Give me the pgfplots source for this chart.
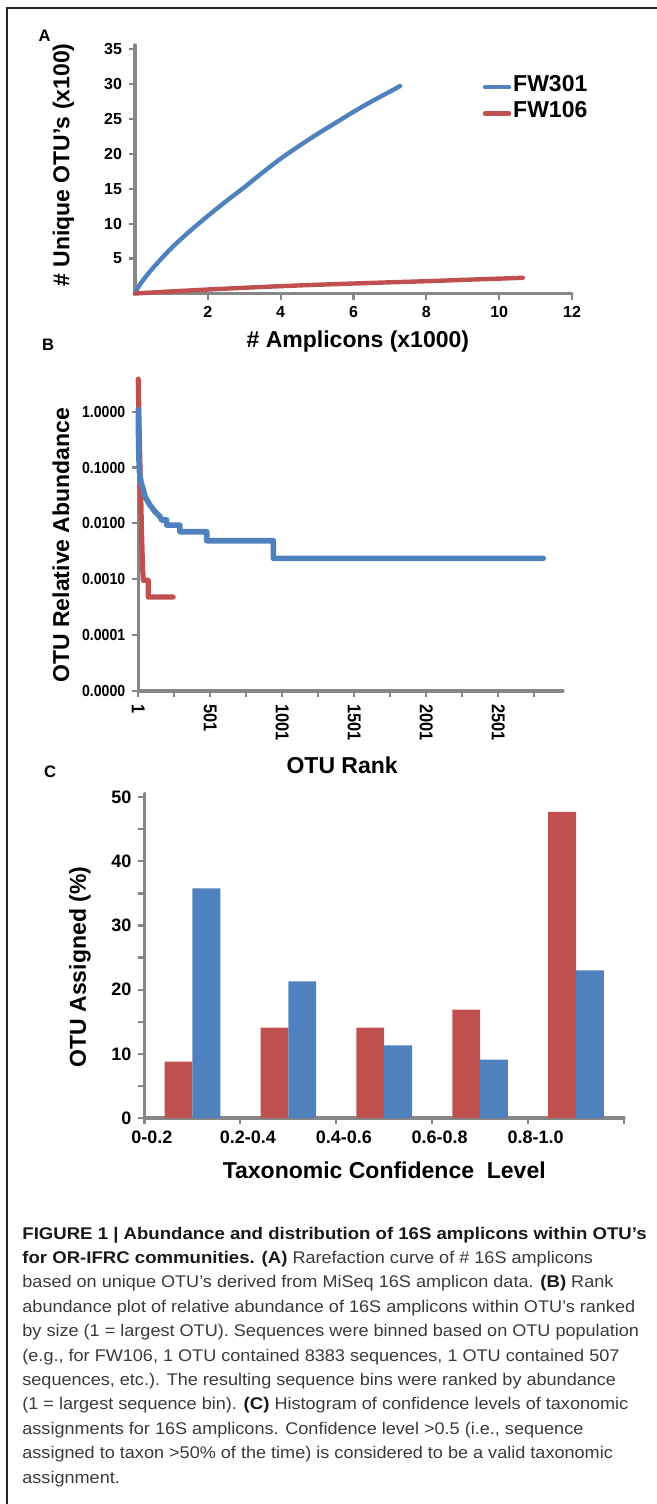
\documentclass[border=0pt]{standalone}
\usepackage{fontspec}
\setmainfont{Liberation Sans}
\newfontfamily\narrowfont[FakeStretch=0.88]{Liberation Sans}
\newfontfamily\capfont[FakeStretch=1.07]{Liberation Sans}
\newfontfamily\capbold[FakeStretch=1.1]{Liberation Sans}
\usepackage{pgfplots}
\pgfplotsset{compat=1.18}
\definecolor{fwblue}{HTML}{4F81BD}
\definecolor{fwred}{HTML}{C0504D}
\definecolor{axisgray}{HTML}{878787}
\definecolor{capgray}{HTML}{3A3A3A}
\newcommand{\cb}[1]{{\capbold\bfseries\color{black!90}#1}}
\pgfplotsset{
  myaxis/.style={
    scale only axis,
    anchor=south west,
    axis lines=left,
    axis line style={-, draw=axisgray, line width=1.6pt, line cap=round},
    tick style={draw=axisgray, line width=1.1pt},
    major tick length=3pt, minor tick length=3pt,
    tick align=outside,
    label style={font=\bfseries\fontsize{11.5}{13}\selectfont},
    clip=false,
  }
}
\begin{document}
\begin{tikzpicture}
\path[use as bounding box] (0pt,0pt) rectangle (328.5pt,-752pt);
% frame
\draw[line width=1pt, black!85] (3.25pt,-752pt) -- (3.25pt,-4.25pt) -- (328.5pt,-4.25pt);
% panel letters
\node[font=\bfseries\fontsize{8.3}{10}\selectfont] at (22.25pt,-18pt) {A};
\node[font=\bfseries\fontsize{8.3}{10}\selectfont] at (24pt,-172.5pt) {B};
\node[font=\bfseries\fontsize{8.3}{10}\selectfont] at (25pt,-385.75pt) {C};

% ---------------- Panel A
\begin{axis}[myaxis, at={(67.5pt,-146.75pt)},
  width=218.5pt, height=124.25pt,
  xmin=0, xmax=12, ymin=0, ymax=35.57,
  xtick={2,4,6,8,10,12}, xticklabels={2,4,6,8,10,12},
  ytick={5,10,15,20,25,30,35}, yticklabels={5,10,15,20,25,30,35},
  tick label style={font=\bfseries\fontsize{8}{9}\selectfont},
  xlabel={\# Amplicons (x1000)}, ylabel={\# Unique OTU's (x100)},
  xlabel style={at={(axis description cs:0.510,-0.195)}, anchor=center},
  ylabel style={at={(axis description cs:-0.1636,0.517)}, anchor=center},
  legend style={at={(axis description cs:0.795,0.788)}, anchor=west, draw=none, fill=none,
    font=\bfseries\fontsize{11.5}{12}\selectfont, row sep=1.6pt, inner sep=0pt,
    nodes={inner sep=1pt}},
  legend cell align=left,
  legend image code/.code={\draw[#1] (0pt,-1.3pt) -- (12pt,-1.3pt);},
]
\addplot[fwblue, line width=2.2pt, line cap=round, smooth] coordinates {
(0,0) (0.1,1.0) (0.25,2.1) (0.5,3.7) (1,6.5) (1.5,8.9) (2,11.1) (2.5,13.2)
(3,15.2) (3.5,17.3) (4,19.3) (4.5,21.1) (5,22.8) (5.5,24.4) (6,26.0)
(6.5,27.5) (7,28.9) (7.28,29.7)};
\addlegendentry{FW301}
\addplot[fwred, line width=2.2pt, line cap=round, smooth] coordinates {
(0,0) (0.5,0.15) (1,0.3) (2,0.57) (3,0.82) (4,1.05) (5,1.25) (6,1.43)
(7,1.6) (8,1.76) (9,1.95) (10,2.13) (10.65,2.25)};
\addlegendentry{FW106}
\end{axis}

% ---------------- Panel B
\begin{axis}[myaxis, at={(69.15pt,-345.5pt)},
  width=212.35pt, height=156.5pt,
  xmin=1, xmax=2950, ymode=log, ymin=1e-5, ymax=4,
  xtick={1,501,1001,1501,2001,2501}, xticklabels={1,501,1001,1501,2001,2501},
  minor xtick={251,751,1251,1751,2251,2751},
  ytick={1e-5,1e-4,1e-3,1e-2,1e-1,1},
  yticklabels={0.0000,0.0001,0.0010,0.0100,0.1000,1.0000},
  yminorticks=false,
  xticklabel style={rotate=-90, anchor=west, font=\narrowfont\bfseries\fontsize{9.3}{10}\selectfont},
  yticklabel style={font=\narrowfont\bfseries\fontsize{8}{9}\selectfont},
  xlabel={OTU Rank}, ylabel={OTU Relative Abundance},
  xlabel style={at={(axis description cs:0.480,-0.236)}, anchor=center},
  ylabel style={at={(axis description cs:-0.182,0.466)}, anchor=center},
]
\addplot[fwred, line width=2.6pt, line cap=round, line join=round] coordinates {
(1,3.8) (6,0.6) (12,0.12) (18,0.03) (24,0.006) (31,0.0015) (36,0.00096)
(70,0.00096) (70,0.00048) (243,0.00048)};
\addplot[fwblue, line width=2.8pt, line cap=round, line join=round] coordinates {
(1,1.1) (3,0.3) (5,0.15) (10,0.08) (20,0.055) (36,0.04) (48,0.03) (82,0.0213)
(117,0.0162) (152,0.0132) (163,0.0115) (198,0.0115) (198,0.0093) (290,0.0093)
(290,0.0071) (476,0.0071) (476,0.0049) (939,0.0049) (939,0.00237) (2813,0.00237)};
\end{axis}

% ---------------- Panel C
\begin{axis}[myaxis, at={(72.25pt,-559pt)},
  width=239.75pt, height=162.35pt,
  xmin=0, xmax=5, ymin=0, ymax=50.6,
  xtick={0,1,2,3,4,5}, xticklabels={0-0.2,0.2-0.4,0.4-0.6,0.6-0.8,0.8-1.0,{}},
  ytick={0,10,20,30,40,50}, yticklabels={0,10,20,30,40,50},
  minor ytick={5,15,25,35,45},
  xticklabel style={xshift=3.75pt},
  tick label style={font=\bfseries\fontsize{9}{10}\selectfont},
  xlabel={Taxonomic Confidence\ \ Level}, ylabel={OTU Assigned (\%)},
  xlabel style={at={(axis description cs:0.5,-0.160)}, anchor=center},
  ylabel style={at={(axis description cs:-0.1345,0.465)}, anchor=center},
]
\addplot[ybar, bar width=0.29, bar shift=0pt, fill=fwred, draw=none] coordinates {
(0.355,8.8) (1.355,14.1) (2.355,14.1) (3.355,16.9) (4.355,47.7)};
\addplot[ybar, bar width=0.29, bar shift=0pt, fill=fwblue, draw=none] coordinates {
(0.645,35.8) (1.645,21.3) (2.645,11.3) (3.645,9.1) (4.645,23.0)};
\end{axis}

% ---------------- Caption
\begin{scope}[every node/.style={anchor=base west, inner sep=0pt, text=capgray,
   font=\capfont\fontsize{8.45}{12.2}\selectfont}]
\node at (11pt,-619.5pt) {\cb{FIGURE 1 | Abundance and distribution of 16S amplicons within OTU’s}};
\node at (11pt,-631.7pt) {\cb{for OR-IFRC communities. (A)} Rarefaction curve of \# 16S amplicons};
\node at (11pt,-643.9pt) {based on unique OTU’s derived from MiSeq 16S amplicon data. \cb{(B)} Rank};
\node at (11pt,-656.1pt) {abundance plot of relative abundance of 16S amplicons within OTU’s ranked};
\node at (11pt,-668.3pt) {by size (1 = largest OTU). Sequences were binned based on OTU population};
\node at (11pt,-680.5pt) {(e.g., for FW106, 1 OTU contained 8383 sequences, 1 OTU contained 507};
\node at (11pt,-692.7pt) {sequences, etc.). The resulting sequence bins were ranked by abundance};
\node at (11pt,-704.9pt) {(1 = largest sequence bin). \cb{(C)} Histogram of confidence levels of taxonomic};
\node at (11pt,-717.1pt) {assignments for 16S amplicons. Confidence level >0.5 (i.e., sequence};
\node at (11pt,-729.3pt) {assigned to taxon >50\% of the time) is considered to be a valid taxonomic};
\node at (11pt,-741.5pt) {assignment.};
\end{scope}
\end{tikzpicture}
\end{document}
